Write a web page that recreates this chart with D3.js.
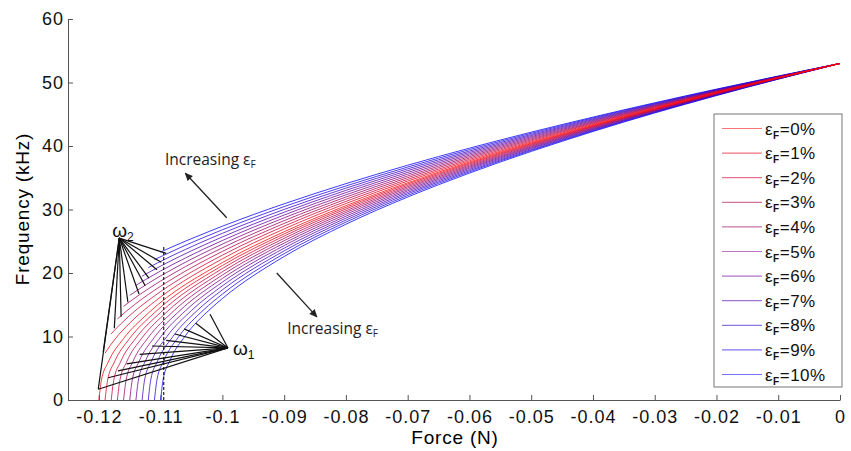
<!DOCTYPE html>
<html>
<head>
<meta charset="utf-8">
<script src="https://cdn.jsdelivr.net/npm/d3@7"></script>
<style>
  body { margin: 0; background: #fff; }
  svg { display: block; font-family: "Liberation Sans", Arial, sans-serif; }
  .axis path, .axis line { stroke: #555; }
  .axis text { font-size: 18px; letter-spacing: 1px; fill: #111; font-family: "Liberation Sans", Arial, sans-serif; }
  .note { font-family: "Open Sans", sans-serif; font-size: 15.5px; fill: #222; }
</style>
</head>
<body>
<div id="chart"></div>
<script>
// values
const strainLabels = ["0%", "1%", "2%", "3%", "4%", "5%", "6%", "7%", "8%", "9%", "10%"];
const xTicks = [-0.12, -0.11, -0.1, -0.09, -0.08, -0.07, -0.06, -0.05, -0.04, -0.03, -0.02, -0.01, 0];
const yTicks = [0, 10, 20, 30, 40, 50, 60];

// each curve = a head near its own start force + a shared force grid
const startForce = [-0.12, -0.119, -0.118, -0.117, -0.116, -0.115, -0.114, -0.113, -0.112, -0.111, -0.11];
const headOffset = [0, 0.0004, 0.0015, 0.004, 0.008];
const gridForce = [-0.1, -0.09, -0.08, -0.07, -0.06, -0.04, -0.02, 0];

const omega1Head = [
  [0, 3.06, 5.93, 9.68, 13.68],
  [0, 3.07, 5.95, 9.72, 13.74],
  [0, 3.09, 5.98, 9.76, 13.80],
  [0, 3.10, 6.00, 9.80, 13.86],
  [0, 3.11, 6.03, 9.84, 13.92],
  [0, 3.13, 6.05, 9.88, 13.98],
  [0, 3.14, 6.08, 9.93, 14.04],
  [0, 3.15, 6.11, 9.97, 14.10],
  [0, 3.17, 6.13, 10.02, 14.16],
  [0, 3.18, 6.16, 10.06, 14.23],
  [0, 3.20, 6.19, 10.11, 14.29]
];
const omega1Grid = [
  [21.64, 26.50, 30.60, 34.21, 37.48, 43.27, 48.38, 53],
  [21.18, 26.16, 30.34, 34.01, 37.32, 43.18, 48.34, 53],
  [20.70, 25.82, 30.08, 33.80, 37.16, 43.09, 48.30, 53],
  [20.20, 25.46, 29.80, 33.59, 36.99, 43.00, 48.26, 53],
  [19.68, 25.09, 29.53, 33.38, 36.82, 42.90, 48.22, 53],
  [19.14, 24.71, 29.24, 33.15, 36.65, 42.80, 48.17, 53],
  [18.57, 24.32, 28.94, 32.93, 36.48, 42.70, 48.13, 53],
  [17.98, 23.91, 28.64, 32.69, 36.30, 42.60, 48.08, 53],
  [17.35, 23.49, 28.33, 32.46, 36.11, 42.49, 48.04, 53],
  [16.68, 23.05, 28.01, 32.21, 35.93, 42.39, 47.99, 53],
  [15.98, 22.60, 27.68, 31.96, 35.73, 42.28, 47.94, 53]
];
const omega2Head = [
  [0, 3.06, 5.93, 9.68, 13.68],
  [7.37, 7.97, 9.44, 12.12, 15.48],
  [10.42, 10.85, 11.95, 14.15, 17.08],
  [12.76, 13.11, 14.03, 15.92, 18.54],
  [14.74, 15.04, 15.83, 17.51, 19.90],
  [16.48, 16.74, 17.45, 18.97, 21.17],
  [18.05, 18.29, 18.93, 20.32, 22.36],
  [19.50, 19.72, 20.31, 21.59, 23.50],
  [20.84, 21.04, 21.59, 22.79, 24.58],
  [22.11, 22.29, 22.80, 23.92, 25.61],
  [23.30, 23.48, 23.96, 25.01, 26.60]
];
const omega2Grid = [
  [21.64, 26.50, 30.60, 34.21, 37.48, 43.27, 48.38, 53],
  [22.23, 26.94, 30.94, 34.48, 37.68, 43.39, 48.44, 53],
  [22.81, 27.38, 31.28, 34.74, 37.89, 43.52, 48.49, 53],
  [23.40, 27.81, 31.62, 35.01, 38.11, 43.64, 48.55, 53],
  [23.97, 28.25, 31.96, 35.28, 38.32, 43.76, 48.60, 53],
  [24.55, 28.69, 32.31, 35.56, 38.54, 43.89, 48.66, 53],
  [25.12, 29.13, 32.66, 35.84, 38.76, 44.02, 48.72, 53],
  [25.68, 29.57, 33.01, 36.12, 38.98, 44.15, 48.78, 53],
  [26.25, 30.01, 33.36, 36.40, 39.20, 44.28, 48.84, 53],
  [26.81, 30.46, 33.71, 36.68, 39.43, 44.42, 48.90, 53],
  [27.37, 30.90, 34.07, 36.97, 39.66, 44.55, 48.96, 53]
];

// annotation anchors, in data units
const dashLine = [[-0.1095, 0], [-0.1095, 24.3]];
const omega2Vertex = [-0.1167, 25.5];
const omega2Tips = [[-0.1201, 1.7], [-0.1193, 7.6], [-0.1175, 11.3], [-0.1164, 13.1], [-0.1153, 15.4],
  [-0.1135, 16.7], [-0.1125, 18.0], [-0.1119, 19.2], [-0.1106, 20.5], [-0.1099, 21.7], [-0.1091, 23.1]];
const omega1Vertex = [-0.0991, 8.2];
const omega1Tips = [[-0.1201, 1.7], [-0.1185, 3.5], [-0.1169, 4.6], [-0.1155, 5.7], [-0.1134, 7.2],
  [-0.1114, 8.5], [-0.1091, 9.4], [-0.1077, 10.4], [-0.1062, 11.2], [-0.1043, 12.1], [-0.102, 13.5]];
const arrowUp = [[-0.0993, 28.7], [-0.106, 35.7]];
const arrowDown = [[-0.0912, 20.0], [-0.0847, 13.1]];

const width = 851, height = 451;
const x = d3.scaleLinear().domain([-0.125, 0]).range([68, 840]);
const y = d3.scaleLinear().domain([0, 60]).range([400, 19]);
const color = d3.interpolateRgb("#ff0000", "#0000ff");

const svg = d3.select("#chart").append("svg")
  .attr("width", width)
  .attr("height", height);

svg.append("defs").append("marker")
  .attr("id", "head")
  .attr("viewBox", "0 0 10 10")
  .attr("refX", 9).attr("refY", 5)
  .attr("markerUnits", "userSpaceOnUse")
  .attr("markerWidth", 10).attr("markerHeight", 8)
  .attr("orient", "auto")
  .append("path").attr("d", "M0,0.5L10,5L0,9.5Z").attr("fill", "#222");

const fmt = d => d === 0 ? "0" : String(+d.toFixed(2));

svg.append("g").attr("class", "axis")
  .attr("transform", `translate(0,${y(0)})`)
  .call(d3.axisBottom(x).tickValues(xTicks).tickSizeInner(-5).tickSizeOuter(0).tickPadding(10).tickFormat(fmt));

svg.append("g").attr("class", "axis")
  .attr("transform", `translate(${x(-0.125)},0)`)
  .call(d3.axisLeft(y).tickValues(yTicks).tickSizeInner(-5).tickSizeOuter(0).tickPadding(4));

svg.append("text")
  .attr("transform", "translate(29,209) rotate(-90)")
  .attr("text-anchor", "middle")
  .style("font-size", "19px").style("letter-spacing", "0.8px")
  .text("Frequency (kHz)");

svg.append("text")
  .attr("x", 455).attr("y", 444)
  .attr("text-anchor", "middle")
  .style("font-size", "19px").style("letter-spacing", "0.8px")
  .text("Force (N)");

const line = d3.line()
  .x(d => x(d[0]))
  .y(d => y(d[1]))
  .curve(d3.curveMonotoneX);

function curvePoints(i, head, grid) {
  const pts = headOffset.map((o, k) => [startForce[i] + o, head[i][k]]);
  gridForce.forEach((f, k) => pts.push([f, grid[i][k]]));
  return pts;
}

const curves = svg.append("g").attr("fill", "none").attr("stroke-width", 0.9).attr("stroke-opacity", 0.85);
for (let i = strainLabels.length - 1; i >= 0; i--) {
  curves.append("path").attr("d", line(curvePoints(i, omega1Head, omega1Grid))).attr("stroke", color(i / 10));
  if (i > 0) {
    curves.append("path").attr("d", line(curvePoints(i, omega2Head, omega2Grid))).attr("stroke", color(i / 10));
  }
}

// dashed marker line and the pointer fans
svg.append("path")
  .attr("d", d3.line().x(d => x(d[0])).y(d => y(d[1]))(dashLine))
  .attr("stroke", "#111").attr("stroke-width", 1.1).attr("stroke-dasharray", "3,2");

const fans = svg.append("g").attr("stroke", "#111").attr("stroke-width", 1.2);
omega2Tips.forEach(t => {
  fans.append("line")
    .attr("x1", x(omega2Vertex[0])).attr("y1", y(omega2Vertex[1]))
    .attr("x2", x(t[0])).attr("y2", y(t[1]));
});
omega1Tips.forEach(t => {
  fans.append("line")
    .attr("x1", x(omega1Vertex[0])).attr("y1", y(omega1Vertex[1]))
    .attr("x2", x(t[0])).attr("y2", y(t[1]));
});

function omegaLabel(px, py, sub) {
  const t = svg.append("text").attr("x", px).attr("y", py).style("font-size", "19px").attr("fill", "#111");
  t.append("tspan").text("ω");
  t.append("tspan").attr("dy", 4).style("font-size", "12px").text(sub);
}
omegaLabel(x(omega2Vertex[0]) - 7, y(omega2Vertex[1]) - 1, "2");
omegaLabel(x(omega1Vertex[0]) + 5, y(omega1Vertex[1]) + 7, "1");

function arrow(pts) {
  svg.append("line")
    .attr("x1", x(pts[0][0])).attr("y1", y(pts[0][1]))
    .attr("x2", x(pts[1][0])).attr("y2", y(pts[1][1]))
    .attr("stroke", "#222").attr("stroke-width", 1.3)
    .attr("marker-end", "url(#head)");
}
arrow(arrowUp);
arrow(arrowDown);

function note(px, py) {
  const t = svg.append("text").attr("class", "note").attr("x", px).attr("y", py);
  t.append("tspan").text("Increasing ε");
  t.append("tspan").attr("dy", 3).style("font-size", "10px").text("F");
}
note(x(-0.1093), y(37.0));
note(x(-0.0895), y(10.4));

// legend
const legend = svg.append("g");
legend.append("rect")
  .attr("x", 714).attr("y", 114).attr("width", 128).attr("height", 273)
  .attr("fill", "#fff").attr("stroke", "#777");
strainLabels.forEach((lab, i) => {
  const ry = 128.5 + i * 24.6;
  legend.append("line")
    .attr("x1", 722).attr("x2", 762).attr("y1", ry).attr("y2", ry)
    .attr("stroke", color(i / 10)).attr("stroke-width", 1.2).attr("stroke-opacity", 0.55);
  const t = legend.append("text").attr("x", 765).attr("y", ry + 6)
    .style("font-size", "17px").style("letter-spacing", "0.5px").attr("fill", "#111");
  t.append("tspan").text("ε");
  t.append("tspan").attr("dy", 4).style("font-size", "10px").style("font-weight", "bold").text("F");
  t.append("tspan").attr("dy", -4).text("=" + lab);
});
</script>
</body>
</html>
